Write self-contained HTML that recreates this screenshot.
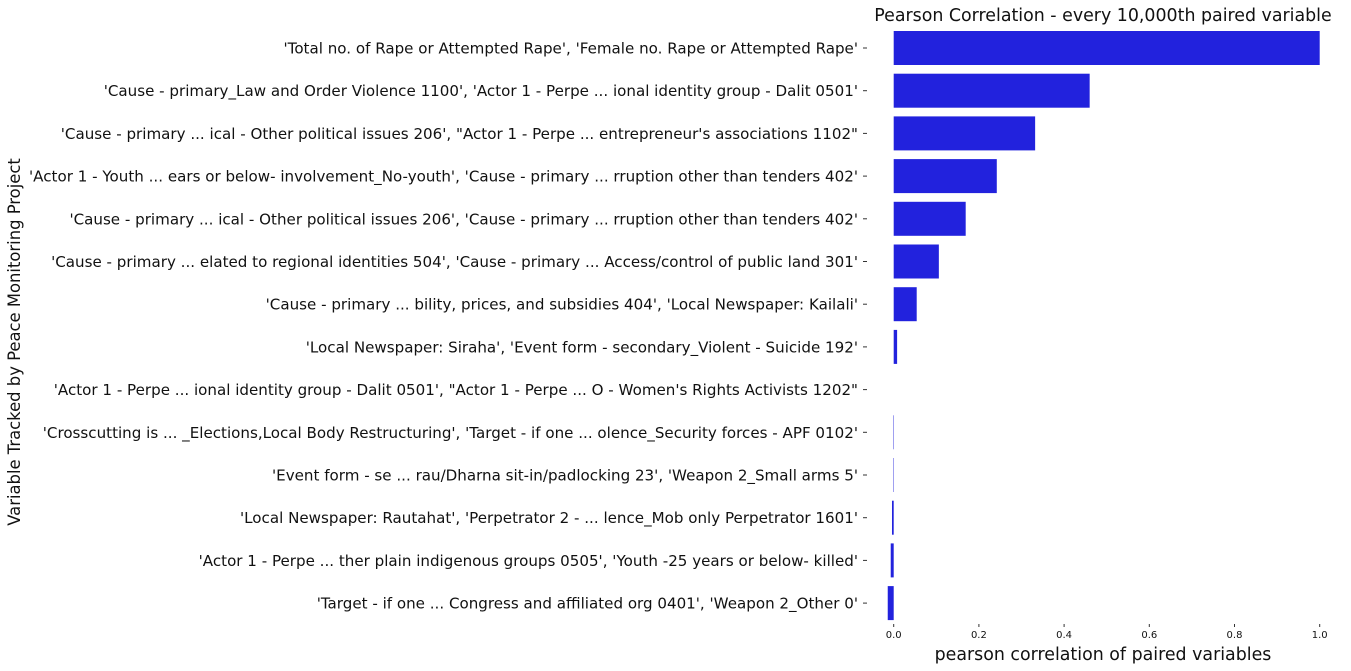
<!DOCTYPE html>
<html><head><meta charset="utf-8"><style>
html,body{margin:0;padding:0;background:#fff;}
svg{display:block;font-family:"DejaVu Sans","Liberation Sans",sans-serif;}
</style></head><body>
<svg id="chart" width="1351" height="671">
<text x="1103" y="21" font-size="17.4" text-anchor="middle" fill="#111">Pearson Correlation - every 10,000th paired variable</text>
<text x="1103" y="660" font-size="17.4" text-anchor="middle" fill="#111">pearson correlation of paired variables</text>
<text transform="translate(20,342) rotate(-90)" font-size="16.4" text-anchor="middle" fill="#111">Variable Tracked by Peace Monitoring Project</text>
<g id="bars"></g><g id="ylabels"></g><g id="xticks"></g>
</svg>
<script>
const categories = [
"'Total no. of Rape or Attempted Rape', 'Female no. Rape or Attempted Rape'",
"'Cause - primary_Law and Order Violence 1100', 'Actor 1 - Perpe ... ional identity group - Dalit 0501'",
"'Cause - primary ... ical - Other political issues 206', \"Actor 1 - Perpe ...  entrepreneur's associations 1102\"",
"'Actor 1 - Youth ... ears or below- involvement_No-youth', 'Cause - primary ... rruption other than tenders 402'",
"'Cause - primary ... ical - Other political issues 206', 'Cause - primary ... rruption other than tenders 402'",
"'Cause - primary ... elated to regional identities 504', 'Cause - primary ... Access/control of public land 301'",
"'Cause - primary ... bility, prices, and subsidies 404', 'Local Newspaper: Kailali'",
"'Local Newspaper: Siraha', 'Event form - secondary_Violent - Suicide 192'",
"'Actor 1 - Perpe ... ional identity group - Dalit 0501', \"Actor 1 - Perpe ... O - Women's Rights Activists 1202\"",
"'Crosscutting is ... _Elections,Local Body Restructuring', 'Target - if one ... olence_Security forces - APF 0102'",
"'Event form - se ... rau/Dharna sit-in/padlocking 23', 'Weapon 2_Small arms 5'",
"'Local Newspaper: Rautahat', 'Perpetrator 2 - ... lence_Mob only Perpetrator 1601'",
"'Actor 1 - Perpe ... ther plain indigenous groups 0505', 'Youth -25 years or below- killed'",
"'Target - if one ...  Congress and affiliated org 0401', 'Weapon 2_Other 0'"
];
const values = [1.0, 0.46, 0.332, 0.242, 0.169, 0.106, 0.054, 0.008, 0.0, -0.001, -0.001, -0.004, -0.007, -0.014];
const xTicks = [0.0, 0.2, 0.4, 0.6, 0.8, 1.0];
const xTickLabels = ["0.0","0.2","0.4","0.6","0.8","1.0"];
const NS="http://www.w3.org/2000/svg";
const x0=893.7, x1=1319.7;
const xs=v=>x0+(x1-x0)*v;
const yc=i=>48+i*42.7;
const bh=34;
const gb=document.getElementById('bars'), gl=document.getElementById('ylabels'), gx=document.getElementById('xticks');
values.forEach((v,i)=>{
  const r=document.createElementNS(NS,'rect');
  r.setAttribute('x',Math.min(xs(0),xs(v)));
  r.setAttribute('y',yc(i)-bh/2);
  r.setAttribute('width',Math.abs(xs(v)-xs(0)));
  r.setAttribute('height',bh);
  r.setAttribute('fill','#2222dd');
  
  
  gb.appendChild(r);
});
categories.forEach((c,i)=>{
  const t=document.createElementNS(NS,'text');
  t.setAttribute('x',858);t.setAttribute('y',yc(i)+5.5);
  t.setAttribute('font-size','15.1');t.setAttribute('text-anchor','end');t.setAttribute('fill','#111');
  t.textContent=c;
  
  
  gl.appendChild(t);
  const m=document.createElementNS(NS,'line');
  m.setAttribute('x1',863);m.setAttribute('x2',867);m.setAttribute('y1',yc(i));m.setAttribute('y2',yc(i));
  m.setAttribute('stroke','#333');
  
  
  gl.appendChild(m);
});
xTicks.forEach((v,i)=>{
  const m=document.createElementNS(NS,'line');
  m.setAttribute('x1',xs(v));m.setAttribute('x2',xs(v));m.setAttribute('y1',624);m.setAttribute('y2',627);
  m.setAttribute('stroke','#333');
  
  
  gx.appendChild(m);
  const t=document.createElementNS(NS,'text');
  t.setAttribute('x',xs(v));t.setAttribute('y',638);
  t.setAttribute('font-size','10');t.setAttribute('text-anchor','middle');t.setAttribute('fill','#111');
  t.textContent=xTickLabels[i];
  
  
  gx.appendChild(t);
});
</script>
</body></html>
